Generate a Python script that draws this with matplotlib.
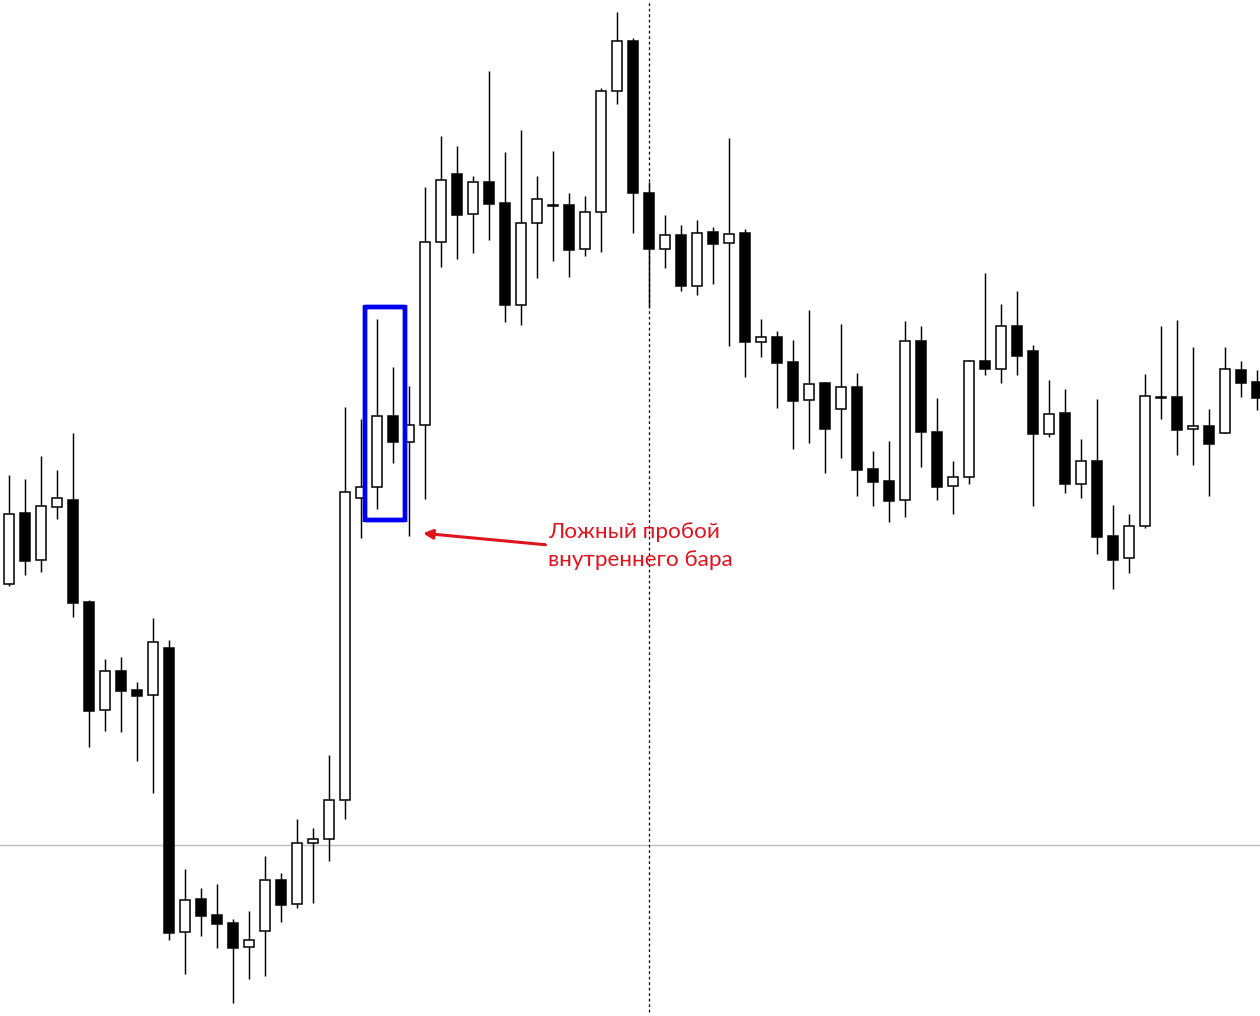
import matplotlib
matplotlib.use("Agg")
import matplotlib.pyplot as plt
from matplotlib.patches import FancyBboxPatch

# price levels (arbitrary units, higher = higher price)
opens = [432, 503, 456, 509, 516, 414, 306, 345, 326, 321,
         368, 84, 117, 101, 93, 69, 85, 136, 112, 173,
         177, 216, 518, 529, 600, 574, 591, 774, 842, 802,
         834, 813, 711, 793, 811, 811, 767, 804, 925, 975,
         823, 767, 781, 730, 784, 773, 783, 674, 679, 654,
         616, 633, 607, 629, 547, 535, 516, 675, 584, 530,
         539, 655, 647, 690, 665, 582, 603, 532, 555, 480,
         458, 490, 619, 619, 587, 590, 583, 646, 634]
highs = [541, 537, 560, 546, 583, 416, 357, 359, 334, 398,
         376, 147, 128, 132, 97, 105, 160, 143, 197, 188,
         261, 609, 597, 697, 649, 630, 829, 880, 870, 840,
         945, 864, 886, 840, 865, 823, 820, 928, 1004, 978,
         834, 801, 791, 796, 789, 878, 787, 697, 685, 676,
         706, 634, 692, 643, 565, 575, 695, 690, 618, 555,
         656, 743, 712, 725, 671, 636, 627, 577, 617, 511,
         502, 642, 690, 696, 669, 607, 669, 655, 646]
lows = [430, 441, 444, 497, 399, 269, 285, 284, 255, 223,
        76, 42, 80, 68, 13, 37, 40, 94, 108, 113,
        155, 197, 478, 507, 553, 480, 517, 749, 757, 763,
        776, 694, 691, 738, 755, 739, 760, 764, 912, 783,
        709, 748, 725, 721, 732, 670, 639, 659, 608, 567,
        573, 543, 558, 520, 510, 494, 499, 549, 516, 502,
        532, 641, 633, 641, 510, 579, 523, 518, 462, 427,
        443, 488, 597, 561, 551, 520, 583, 619, 606]
closes = [502, 455, 510, 518, 413, 305, 345, 325, 320, 374,
          83, 116, 100, 92, 68, 76, 136, 111, 173, 177,
          216, 524, 529, 600, 574, 591, 774, 836, 801, 834,
          812, 711, 793, 817, 810, 766, 804, 925, 975, 823,
          767, 781, 730, 783, 772, 782, 674, 679, 653, 615,
          632, 587, 629, 546, 534, 515, 675, 584, 529, 539,
          655, 647, 690, 660, 582, 602, 532, 555, 479, 456,
          490, 620, 618, 586, 590, 572, 647, 633, 618]

level_line = 171
marker_index = 40
label = "Ложный пробой\nвнутреннего бара"

fig = plt.figure(figsize=(12.6, 10.16), dpi=100)
ax = fig.add_axes([0, 0, 1, 1])
ax.set_xlim(-0.5625, 78.1875)
ax.set_ylim(0, 1016)
ax.axis("off")

ax.axhline(level_line, color="#c0c0c0", lw=1.0, zorder=0)
ax.vlines(marker_index, 4, 1016, colors="black", lw=0.9,
          linestyles=(0, (2.2, 2.2)), zorder=1)

x = list(range(len(opens)))
ax.vlines(x, lows, highs, colors="black", lw=1.05, zorder=2)
for i in x:
    o, c = opens[i], closes[i]
    face = "white" if c > o else "black"
    ax.bar(i, abs(c - o), bottom=min(o, c), width=0.66,
           facecolor=face, edgecolor="black", lw=1.1, zorder=3)

# inside bar box
box = FancyBboxPatch((22.25, 496), 2.5, 213,
                     boxstyle="round,pad=0,rounding_size=0.15",
                     fill=False, edgecolor="#0000f0", lw=3.4, zorder=4)
ax.add_patch(box)

red = "#e0141e"
ax.annotate("", xy=(25.7, 483), xytext=(33.7, 471),
            arrowprops=dict(arrowstyle="-|>", color=red, lw=2.2,
                            mutation_scale=14), zorder=5)
ax.text(33.7, 469.5, label, color=red, fontsize=16.2, family="Lato",
        ha="left", va="center", linespacing=1.5, zorder=5)

fig.savefig("out.png", dpi=100)
